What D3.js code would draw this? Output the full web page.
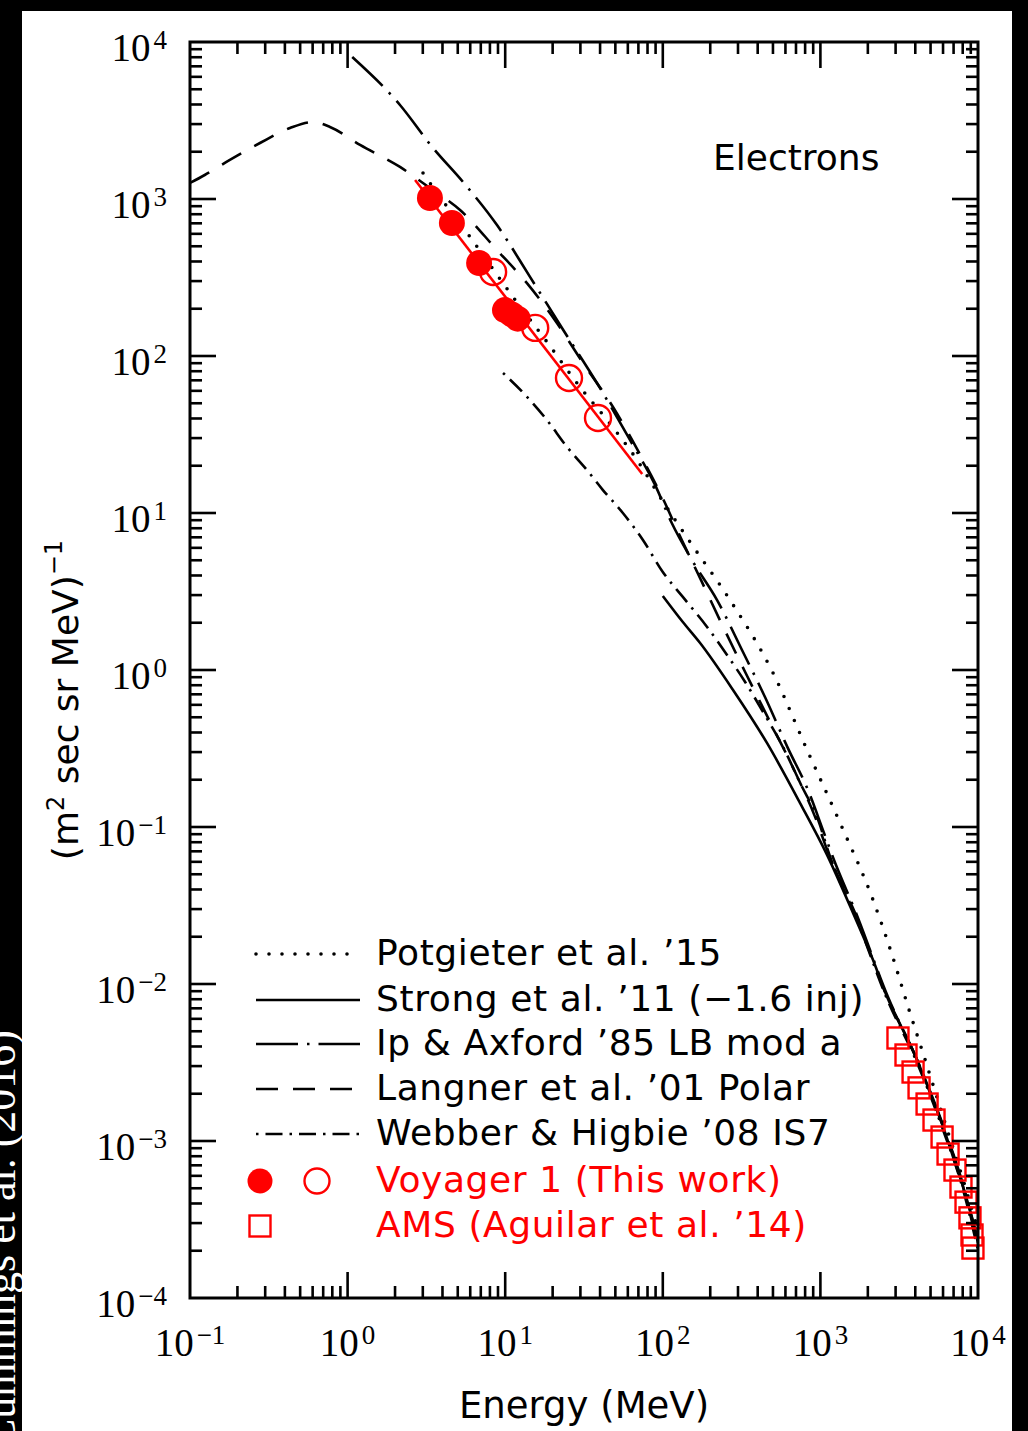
<!DOCTYPE html>
<html><head><meta charset="utf-8">
<script src="https://cdn.jsdelivr.net/npm/d3@7"></script>
<style>html,body{margin:0;padding:0;background:#000;}svg{display:block}</style>
</head><body>
<svg id="chart" width="1028" height="1431"></svg>
<script>
// ---------- data (energy in MeV, flux in (m^2 sec sr MeV)^-1) ----------
const xTickValues = [0.1, 1, 10, 100, 1000, 10000];
const xTickExponents = ["\u22121", "0", "1", "2", "3", "4"];
const yTickValues = [1e-4, 1e-3, 1e-2, 1e-1, 1, 10, 100, 1000, 10000];
const yTickExponents = ["\u22124", "\u22123", "\u22122", "\u22121", "0", "1", "2", "3", "4"];

const potgieterE = [3.01, 3.85, 5.56, 8.01, 11.2, 18.4, 29.8, 44.3, 68.6, 98.8, 149, 267, 501, 824, 1334, 2158, 2851, 3603, 4624, 6010, 8050, 10000];
const potgieterF = [1465, 1030, 635, 380, 238, 123, 63.5, 39.1, 21.8, 12.1, 6.53, 2.79, 0.957, 0.309, 0.106, 0.0343, 0.0153, 7.14e-3, 3.28e-3, 1.42e-3, 5.65e-4, 2.71e-4];

const strongE = [100, 134, 172, 279, 458, 743, 1102, 1611, 2158, 2650, 3200, 4110, 4970, 6010, 6950, 8050, 9180, 10000];
const strongF = [2.96, 2.02, 1.49, 0.746, 0.343, 0.142, 0.0664, 0.0283, 0.0142, 8.26e-3, 5.56e-3, 3.28e-3, 2.02e-3, 1.23e-3, 7.91e-4, 5.09e-4, 3.24e-4, 2.34e-4];

const ipAxfordE = [1.07, 2.15, 3.48, 5.40, 8.87, 14.4, 23.3, 38.2, 61.9, 89.3, 114, 153, 221, 318, 445, 622, 834, 1054, 1220, 1683, 2685, 4165, 6095, 8150, 10000];
const ipAxfordF = [8020, 3970, 2115, 1283, 682, 318, 147, 67.3, 29.2, 15.1, 8.63, 5.02, 2.79, 1.34, 0.673, 0.318, 0.172, 0.0916, 0.0617, 0.0283, 8.26e-3, 3.18e-3, 1.21e-3, 5.02e-4, 2.24e-4];

const langnerE = [0.1, 0.124, 0.179, 0.278, 0.431, 0.603, 0.773, 1.20, 2.15, 3.33, 5.17, 8.87, 13.7, 20.7, 31.2, 48.3, 74.8, 98.8, 132, 177, 238, 333, 480, 691, 925, 1153, 1660, 2650, 4110, 6010, 8050, 10000];
const langnerF = [1265, 1422, 1772, 2274, 2833, 3093, 2876, 2208, 1600, 1175, 851, 473, 292, 169, 90.2, 47.3, 21.8, 12.7, 6.73, 3.64, 1.94, 0.971, 0.466, 0.224, 0.116, 0.0635, 0.0283, 8.26e-3, 3.28e-3, 1.23e-3, 5.09e-4, 2.11e-4];

const webberE = [9.69, 13.4, 18.4, 24.7, 33.0, 41.7, 55.8, 74.8, 100, 134, 191, 255, 333, 433, 580, 743, 967, 1153, 1660, 2650, 4110, 6010, 8050, 10000];
const webberF = [78.0, 56.5, 39.1, 26.3, 18.8, 14.0, 10.0, 6.73, 4.21, 2.92, 1.88, 1.25, 0.839, 0.540, 0.323, 0.191, 0.111, 0.0644, 0.0275, 8.02e-3, 3.14e-3, 1.17e-3, 4.88e-4, 2.02e-4];

const voyagerFilledE = [3.33, 4.59, 6.83, 9.97, 11.0, 12.0];
const voyagerFilledF = [1015, 703, 391, 196, 184, 173];
const voyagerOpenE = [8.38, 15.5, 25.4, 38.8];
const voyagerOpenF = [343, 151, 72.4, 40.3];
const voyagerFitE = [2.68, 74];
const voyagerFitF = [1320, 17.7];

const amsE = [3106, 3493, 3873, 4227, 4753, 5260, 5916, 6457, 7145, 7798, 8395, 8892, 9162, 9290];
const amsF = [4.53e-3, 3.53e-3, 2.75e-3, 2.18e-3, 1.72e-3, 1.36e-3, 1.06e-3, 8.26e-4, 6.53e-4, 5.09e-4, 4.08e-4, 3.24e-4, 2.52e-4, 2.08e-4];

const legendLabels = ["Potgieter et al. \u201915", "Strong et al. \u201911 (\u22121.6 inj)", "Ip & Axford \u201985 LB mod a", "Langner et al. \u201901 Polar", "Webber & Higbie \u201908 IS7", "Voyager 1 (This work)", "AMS (Aguilar et al. \u201914)"];

// ---------- drawing ----------
const svg = d3.select("#chart");
const L = 190, R = 978, T = 42, B = 1298;
const x = d3.scaleLog().domain([0.1, 1e4]).range([L, R]);
const y = d3.scaleLog().domain([1e-4, 1e4]).range([B, T]);
const RED = "#ff0000";
const SANS = "'DejaVu Sans', sans-serif";
const SERIF = "'Liberation Serif', 'DejaVu Serif', serif";

// side credit (partly hidden under the white page, as in the source)
svg.append("text")
  .attr("transform", "translate(15,1448) rotate(-90)")
  .attr("font-family", SERIF).attr("font-size", 44).attr("fill", "#fff")
  .text("Cummings et al. (2016)");

// white page
svg.append("rect").attr("x", 22).attr("y", 11).attr("width", 990).attr("height", 1420).attr("fill", "#fff");

const styles = {
  potgieter: {dash: "0,13", width: 3.6, cap: "round"},
  strong: {dash: null, width: 2.6, cap: "butt"},
  ip: {dash: "42,9,2.5,9", width: 2.6, cap: "butt"},
  langner: {dash: "22,15", width: 2.6, cap: "butt"},
  webber: {dash: "2.5,7,17,7", width: 2.6, cap: "butt"}
};

const plot = svg.append("g");
plot.append("clipPath").attr("id", "clip").append("rect")
  .attr("x", L).attr("y", T).attr("width", R - L).attr("height", B - T);

const line = d3.line().x(d => x(d[0])).y(d => y(d[1])).curve(d3.curveMonotoneX);
const curves = [
  [potgieterE, potgieterF, styles.potgieter],
  [strongE, strongF, styles.strong],
  [ipAxfordE, ipAxfordF, styles.ip],
  [langnerE, langnerF, styles.langner],
  [webberE, webberF, styles.webber]
];
const cg = plot.append("g").attr("clip-path", "url(#clip)");
curves.forEach(([E, F, s]) => {
  cg.append("path").attr("d", line(E.map((e, i) => [e, F[i]])))
    .attr("fill", "none").attr("stroke", "#000").attr("stroke-width", s.width)
    .attr("stroke-linecap", s.cap).attr("stroke-dasharray", s.dash);
});

// Voyager fit line
plot.append("path").attr("d", d3.line().x(d => x(d[0])).y(d => y(d[1]))(voyagerFitE.map((e, i) => [e, voyagerFitF[i]])))
  .attr("fill", "none").attr("stroke", RED).attr("stroke-width", 2.6);

// Voyager points
plot.selectAll(".vf").data(voyagerFilledE.map((e, i) => [e, voyagerFilledF[i]])).enter()
  .append("circle").attr("cx", d => x(d[0])).attr("cy", d => y(d[1])).attr("r", 13).attr("fill", RED);
plot.selectAll(".vo").data(voyagerOpenE.map((e, i) => [e, voyagerOpenF[i]])).enter()
  .append("circle").attr("cx", d => x(d[0])).attr("cy", d => y(d[1])).attr("r", 13)
  .attr("fill", "none").attr("stroke", RED).attr("stroke-width", 2.4);

// AMS squares
const SQ = 21;
plot.selectAll(".ams").data(amsE.map((e, i) => [e, amsF[i]])).enter()
  .append("rect").attr("x", d => x(d[0]) - SQ / 2).attr("y", d => y(d[1]) - SQ / 2)
  .attr("width", SQ).attr("height", SQ).attr("fill", "none").attr("stroke", RED).attr("stroke-width", 2.4);

// axes frame and ticks
const ax = svg.append("g").attr("stroke", "#000").attr("stroke-width", 2.6);
ax.append("rect").attr("x", L).attr("y", T).attr("width", R - L).attr("height", B - T)
  .attr("fill", "none").attr("stroke-width", 3);
const isMajor = v => Math.abs(Math.log10(v) - Math.round(Math.log10(v))) < 1e-9;
const MAJ = 26, MIN = 12;
x.ticks().forEach(v => {
  const px = x(v), len = isMajor(v) ? MAJ : MIN;
  if (v <= 0.1 || v >= 1e4) return;
  ax.append("line").attr("x1", px).attr("x2", px).attr("y1", B).attr("y2", B - len);
  ax.append("line").attr("x1", px).attr("x2", px).attr("y1", T).attr("y2", T + len);
});
y.ticks().forEach(v => {
  const py = y(v), len = isMajor(v) ? MAJ : MIN;
  if (v <= 1e-4 || v >= 1e4) return;
  ax.append("line").attr("y1", py).attr("y2", py).attr("x1", L).attr("x2", L + len);
  ax.append("line").attr("y1", py).attr("y2", py).attr("x1", R).attr("x2", R - len);
});

// tick labels
const tl = svg.append("g").attr("font-family", SERIF).attr("fill", "#000");
xTickValues.forEach((v, i) => {
  const t = tl.append("text").attr("x", x(v)).attr("y", 1356).attr("text-anchor", "middle").attr("font-size", 39);
  t.append("tspan").text("10");
  t.append("tspan").attr("dx", 3).attr("dy", -12).attr("font-size", 27).text(xTickExponents[i]);
});
yTickValues.forEach((v, i) => {
  const t = tl.append("text").attr("x", 167).attr("y", y(v) + 19).attr("text-anchor", "end").attr("font-size", 39);
  t.append("tspan").text("10");
  t.append("tspan").attr("dx", 3).attr("dy", -12).attr("font-size", 27).text(yTickExponents[i]);
});

// axis titles
svg.append("text").attr("x", 584).attr("y", 1418).attr("text-anchor", "middle")
  .attr("font-family", SANS).attr("font-size", 37).text("Energy (MeV)");
const yt = svg.append("text").attr("transform", "translate(78,700) rotate(-90)")
  .attr("text-anchor", "middle").attr("font-family", SANS).attr("font-size", 36);
yt.append("tspan").text("(m");
yt.append("tspan").attr("dy", -14).attr("font-size", 24).text("2");
yt.append("tspan").attr("dy", 14).text(" sec sr MeV)");
yt.append("tspan").attr("dy", -16).attr("font-size", 24).text("\u22121");

svg.append("text").attr("x", 713).attr("y", 170).attr("font-family", SANS).attr("font-size", 36).text("Electrons");

// legend
const legRows = [965, 1011, 1055, 1100, 1145, 1192, 1237];
const lg = svg.append("g");
const lineStyles = [styles.potgieter, styles.strong, styles.ip, styles.langner, styles.webber];
lineStyles.forEach((s, i) => {
  lg.append("line").attr("x1", 256).attr("x2", 360).attr("y1", legRows[i] - 11).attr("y2", legRows[i] - 11)
    .attr("stroke", "#000").attr("stroke-width", s.width).attr("stroke-linecap", s.cap).attr("stroke-dasharray", s.dash);
});
lg.append("circle").attr("cx", 260).attr("cy", legRows[5] - 11).attr("r", 12.5).attr("fill", RED);
lg.append("circle").attr("cx", 317).attr("cy", legRows[5] - 11).attr("r", 12.5).attr("fill", "none").attr("stroke", RED).attr("stroke-width", 2.4);
lg.append("rect").attr("x", 260 - 10.5).attr("y", legRows[6] - 11 - 10.5).attr("width", 21).attr("height", 21)
  .attr("fill", "none").attr("stroke", RED).attr("stroke-width", 2.4);
legendLabels.forEach((t, i) => {
  lg.append("text").attr("x", 376).attr("y", legRows[i]).attr("font-family", SANS).attr("font-size", 36)
    .attr("letter-spacing", 0.6).attr("fill", i >= 5 ? RED : "#000").text(t);
});
</script>
</body></html>
